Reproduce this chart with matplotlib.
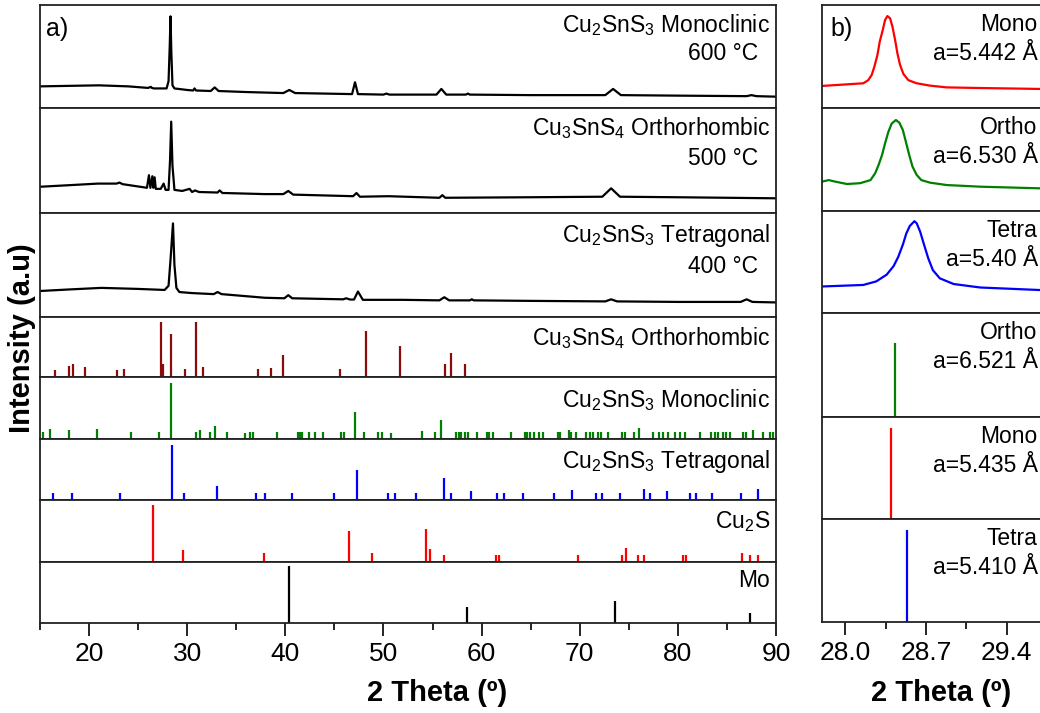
import matplotlib
matplotlib.use("Agg")
import matplotlib.pyplot as plt
from matplotlib.transforms import blended_transform_factory

plt.rcParams["font.family"] = ["Liberation Sans", "DejaVu Sans"]
plt.rcParams["mathtext.fontset"] = "custom"
plt.rcParams["mathtext.rm"] = "Liberation Sans"
plt.rcParams["mathtext.default"] = "regular"

# ---- measured patterns (a) ----
tth_600 = [15.0, 18.0, 21.0, 24.0, 26.0, 26.3, 26.4, 26.6, 27.9, 28.1, 28.22, 28.3, 28.38, 28.5, 28.7,
           30.0, 30.6, 30.75, 30.9, 32.4, 32.8, 33.2, 36.0, 39.8, 40.4, 41.0, 44.0, 46.8, 47.1, 47.4,
           50.0, 50.3, 50.6, 55.4, 55.9, 56.4, 58.4, 58.6, 58.8, 65.0, 72.6, 73.4, 74.2, 80.0, 87.0,
           87.5, 88.0, 90.0]
int_600 = [0.21, 0.215, 0.22, 0.21, 0.195, 0.205, 0.195, 0.19, 0.19, 0.26, 0.6, 0.89, 0.55, 0.22, 0.19,
           0.175, 0.17, 0.19, 0.17, 0.165, 0.2, 0.165, 0.155, 0.145, 0.175, 0.145, 0.14, 0.135, 0.25, 0.135,
           0.13, 0.14, 0.13, 0.13, 0.185, 0.13, 0.13, 0.14, 0.13, 0.125, 0.125, 0.185, 0.125, 0.12, 0.115,
           0.125, 0.115, 0.11]

tth_500 = [15.0, 18.0, 20.9, 22.8, 23.1, 23.4, 25.9, 26.1, 26.25, 26.45, 26.55, 26.68, 26.8, 27.3, 27.6,
           27.8, 28.1, 28.25, 28.37, 28.5, 28.7, 29.5, 30.24, 30.5, 30.8, 31.2, 33.1, 33.3, 33.6, 33.9,
           37.9, 39.8, 40.3, 40.8, 46.9, 47.25, 47.6, 50.5, 55.7, 56.0, 56.3, 65.0, 72.3, 73.2, 74.1,
           80.0, 90.0]
int_500 = [0.25, 0.265, 0.28, 0.28, 0.29, 0.275, 0.24, 0.36, 0.24, 0.35, 0.24, 0.34, 0.23, 0.23, 0.28,
           0.22, 0.22, 0.5, 0.87, 0.45, 0.22, 0.21, 0.23, 0.2, 0.215, 0.2, 0.195, 0.215, 0.19, 0.19,
           0.18, 0.18, 0.21, 0.175, 0.16, 0.19, 0.155, 0.16, 0.145, 0.17, 0.145, 0.15, 0.155, 0.235, 0.155,
           0.15, 0.14]

tth_400 = [15.0, 18.0, 21.25, 25.0, 27.7, 28.1, 28.3, 28.55, 28.7, 28.9, 29.2, 30.5, 32.7, 33.1, 33.5,
           37.9, 39.9, 40.3, 40.7, 45.9, 46.2, 46.6, 47.0, 47.4, 47.9, 52.0, 55.7, 56.2, 56.7, 58.8,
           59.0, 59.2, 65.0, 72.6, 73.2, 73.8, 80.0, 86.4, 87.0, 87.6, 90.0]
int_400 = [0.25, 0.265, 0.28, 0.27, 0.26, 0.3, 0.55, 0.9, 0.5, 0.28, 0.24, 0.23, 0.22, 0.24, 0.22,
           0.185, 0.18, 0.21, 0.18, 0.17, 0.18, 0.168, 0.168, 0.245, 0.165, 0.165, 0.16, 0.19, 0.16, 0.16,
           0.17, 0.16, 0.155, 0.15, 0.17, 0.15, 0.145, 0.145, 0.17, 0.145, 0.14]

# ---- reference sticks (a) ----
ortho_pos = [16.53, 17.95, 18.36, 19.55, 22.84, 23.55, 27.29, 27.52, 28.34, 29.77, 30.85, 31.56,
             37.2, 38.56, 39.75, 45.55, 48.23, 51.73, 56.24, 56.85, 58.28]
ortho_int = [0.12, 0.18, 0.21, 0.17, 0.12, 0.14, 0.92, 0.22, 0.72, 0.14, 0.92, 0.16,
             0.14, 0.15, 0.36, 0.14, 0.76, 0.51, 0.22, 0.40, 0.22]

mono_pos = [15.27, 15.98, 17.95, 20.8, 24.27, 27.08, 28.34, 30.92, 31.29, 32.35, 32.79, 34.08, 35.88,
            36.45, 36.72, 39.2, 41.31, 41.48, 41.65, 42.43, 43.04, 43.85, 45.72, 45.96, 47.11, 48.06,
            49.45, 49.83, 50.81, 53.93, 55.22, 55.9, 57.36, 57.67, 57.94, 58.28, 58.65, 59.53, 60.55,
            60.72, 61.16, 63.03, 64.39, 64.62, 64.9, 65.3, 65.85, 66.26, 67.78, 68.0, 68.87, 69.14,
            69.65, 70.67, 71.0, 71.35, 71.86, 72.17, 72.88, 74.35, 74.58, 75.5, 76.05, 77.46, 78.07,
            78.48, 78.99, 79.67, 80.18, 80.7, 82.28, 83.4, 83.74, 84.08, 84.59, 84.87, 85.28, 86.64,
            86.9, 87.64, 88.66, 89.34, 89.74]
mono_int = [0.11, 0.16, 0.14, 0.16, 0.12, 0.11, 0.9, 0.12, 0.14, 0.11, 0.21, 0.11, 0.1,
            0.11, 0.12, 0.12, 0.11, 0.11, 0.12, 0.12, 0.11, 0.12, 0.11, 0.12, 0.43, 0.12,
            0.11, 0.11, 0.1, 0.13, 0.11, 0.3, 0.11, 0.11, 0.11, 0.12, 0.11, 0.12, 0.11,
            0.11, 0.11, 0.11, 0.11, 0.11, 0.11, 0.11, 0.11, 0.11, 0.11, 0.11, 0.14, 0.11,
            0.11, 0.11, 0.11, 0.11, 0.11, 0.11, 0.11, 0.11, 0.11, 0.11, 0.17, 0.11, 0.11,
            0.11, 0.11, 0.11, 0.11, 0.11, 0.11, 0.11, 0.11, 0.11, 0.11, 0.11, 0.11, 0.11,
            0.11, 0.14, 0.11, 0.11, 0.11]

tetra_pos = [16.32, 18.26, 23.18, 28.44, 29.66, 32.99, 37.0, 37.95, 40.73, 44.97, 47.35, 50.44, 51.15,
             53.36, 56.17, 56.85, 58.96, 61.57, 62.25, 64.22, 67.34, 69.24, 71.69, 72.3, 74.06,
             76.51, 77.12, 78.88, 81.19, 81.8, 83.5, 86.45, 88.15]
tetra_int = [0.12, 0.12, 0.12, 0.9, 0.12, 0.23, 0.12, 0.12, 0.12, 0.12, 0.5, 0.12, 0.12,
             0.12, 0.36, 0.12, 0.14, 0.12, 0.12, 0.12, 0.12, 0.17, 0.12, 0.12, 0.12,
             0.18, 0.12, 0.14, 0.12, 0.12, 0.12, 0.12, 0.18]

cu2s_pos = [26.54, 29.56, 37.81, 46.53, 48.88, 54.38, 54.78, 56.14, 61.44, 61.77, 69.85, 74.3, 74.74,
            75.93, 76.51, 80.51, 80.85, 86.53, 87.3, 88.15]
cu2s_int = [0.92, 0.2, 0.14, 0.5, 0.15, 0.53, 0.21, 0.12, 0.12, 0.12, 0.12, 0.12, 0.23,
            0.12, 0.12, 0.12, 0.12, 0.14, 0.12, 0.12]

mo_pos = [40.39, 58.52, 73.55, 87.37]
mo_int = [0.93, 0.26, 0.36, 0.17]

# ---- zoom on main peak (b) ----
tth_b_mono = [27.8, 28.158, 28.2, 28.23, 28.253, 28.28, 28.3, 28.326, 28.346, 28.366, 28.39, 28.41,
              28.433, 28.453, 28.476, 28.505, 28.548, 28.62, 28.736, 28.88, 29.17, 29.69]
int_b_mono = [0.214, 0.24, 0.27, 0.32, 0.40, 0.515, 0.645, 0.757, 0.854, 0.893, 0.87, 0.79,
              0.66, 0.53, 0.417, 0.33, 0.27, 0.24, 0.217, 0.2, 0.194, 0.185]
tth_b_ortho = [27.8, 27.858, 27.915, 28.016, 28.13, 28.22, 28.26, 28.29, 28.32, 28.346, 28.375, 28.404,
               28.44, 28.47, 28.5, 28.526, 28.555, 28.584, 28.62, 28.66, 28.736, 28.88, 29.17, 29.69]
int_b_ortho = [0.285, 0.30, 0.285, 0.262, 0.27, 0.30, 0.366, 0.447, 0.544, 0.657, 0.77, 0.85,
               0.883, 0.857, 0.786, 0.673, 0.544, 0.43, 0.35, 0.30, 0.275, 0.252, 0.236, 0.22]
tth_b_tetra = [27.8, 28.158, 28.27, 28.36, 28.42, 28.46, 28.5, 28.53, 28.56, 28.6, 28.62, 28.65,
               28.68, 28.72, 28.76, 28.82, 28.94, 29.17, 29.69]
int_b_tetra = [0.26, 0.275, 0.31, 0.376, 0.46, 0.55, 0.67, 0.78, 0.853, 0.9, 0.879, 0.797,
               0.683, 0.536, 0.42, 0.34, 0.284, 0.25, 0.225]

ref_b_pos = [28.43, 28.40, 28.54]
ref_b_int = [0.71, 0.89, 0.89]

W, H = 1040, 713
fig = plt.figure(figsize=(W / 100, H / 100), dpi=100)

TXT = 16.5
LBL = 21
TICK = 19


def add_ax(x0, x1, y0, y1):
    ax = fig.add_axes([x0 / W, 1 - y1 / H, (x1 - x0) / W, (y1 - y0) / H])
    for s in ax.spines.values():
        s.set_linewidth(1.3)
        s.set_color("#222222")
    ax.set_ylim(0, 1)
    ax.set_yticks([])
    ax.tick_params(axis="x", which="both", bottom=False, labelbottom=False)
    return ax


def put(ax, text, x_px, base_px, row_top):
    # right-aligned label, x in figure pixels, baseline in pixels from the top
    tr = blended_transform_factory(fig.transFigure, ax.transAxes)
    ax_h = ax.get_position().height * H
    ax.text(x_px / W, 1 - (base_px - row_top) / ax_h, text, transform=tr,
            ha="right", va="baseline", fontsize=TXT)


# ---- panel a ----
xa0, xa1 = 40, 776
rows_a = [5, 108, 213, 317, 377, 439, 500, 562, 623]
axes_a = [add_ax(xa0, xa1, rows_a[i], rows_a[i + 1]) for i in range(8)]
for ax in axes_a:
    ax.set_xlim(15, 90)

axes_a[0].plot(tth_600, int_600, color="black", lw=1.6)
axes_a[1].plot(tth_500, int_500, color="black", lw=1.6)
axes_a[2].plot(tth_400, int_400, color="black", lw=1.6)
axes_a[3].vlines(ortho_pos, 0, ortho_int, color="#8b0a0a", lw=1.6)
axes_a[4].vlines(mono_pos, 0, mono_int, color="#008000", lw=1.6)
axes_a[5].vlines(tetra_pos, 0, tetra_int, color="#0000ff", lw=1.6)
axes_a[6].vlines(cu2s_pos, 0, cu2s_int, color="#ff0000", lw=1.6)
axes_a[7].vlines(mo_pos, 0, mo_int, color="black", lw=1.6)

put(axes_a[0], r"Cu$_2$SnS$_3$ Monoclinic", 770, 32, rows_a[0])
put(axes_a[0], "600 °C", 758, 60, rows_a[0])
put(axes_a[1], r"Cu$_3$SnS$_4$ Orthorhombic", 770, 135, rows_a[1])
put(axes_a[1], "500 °C", 758, 165, rows_a[1])
put(axes_a[2], r"Cu$_2$SnS$_3$ Tetragonal", 770, 242, rows_a[2])
put(axes_a[2], "400 °C", 758, 273, rows_a[2])
put(axes_a[3], r"Cu$_3$SnS$_4$ Orthorhombic", 770, 345, rows_a[3])
put(axes_a[4], r"Cu$_2$SnS$_3$ Monoclinic", 770, 407, rows_a[4])
put(axes_a[5], r"Cu$_2$SnS$_3$ Tetragonal", 770, 468, rows_a[5])
put(axes_a[6], r"Cu$_2$S", 770, 528, rows_a[6])
put(axes_a[7], "Mo", 770, 587, rows_a[7])

axes_a[0].text(46 / W, 1 - 36 / H, "a)", transform=fig.transFigure, fontsize=18)

bot = axes_a[7]
bot.set_xticks([20, 30, 40, 50, 60, 70, 80, 90])
bot.set_xticks([15, 25, 35, 45, 55, 65, 75, 85], minor=True)
bot.tick_params(axis="x", which="both", bottom=True, labelbottom=True, direction="out",
                width=1.2, labelsize=TICK, pad=5)
bot.tick_params(axis="x", which="major", length=9)
bot.tick_params(axis="x", which="minor", length=5)

# ---- panel b ----
xb0, xb1 = 822, 1053
rows_b = [5, 108, 211, 313, 417, 519, 622]
axes_b = [add_ax(xb0, xb1, rows_b[i], rows_b[i + 1]) for i in range(6)]
for ax in axes_b:
    ax.set_xlim(27.8, 29.8)

axes_b[0].plot(tth_b_mono, int_b_mono, color="#ff0000", lw=1.6)
axes_b[1].plot(tth_b_ortho, int_b_ortho, color="#008000", lw=1.6)
axes_b[2].plot(tth_b_tetra, int_b_tetra, color="#0000ff", lw=1.6)
axes_b[3].vlines(ref_b_pos[0], 0, ref_b_int[0], color="#008000", lw=1.6)
axes_b[4].vlines(ref_b_pos[1], 0, ref_b_int[1], color="#ff0000", lw=1.6)
axes_b[5].vlines(ref_b_pos[2], 0, ref_b_int[2], color="#0000ff", lw=1.6)

labels_b = [("Mono", "a=5.442 Å"), ("Ortho", "a=6.530 Å"), ("Tetra", "a=5.40 Å"),
            ("Ortho", "a=6.521 Å"), ("Mono", "a=5.435 Å"), ("Tetra", "a=5.410 Å")]
for i, (l1, l2) in enumerate(labels_b):
    put(axes_b[i], l1, 1037, rows_b[i] + 26, rows_b[i])
    put(axes_b[i], l2, 1038, rows_b[i] + 55, rows_b[i])

axes_b[0].text(830 / W, 1 - 36 / H, "b)", transform=fig.transFigure, fontsize=18)

botb = axes_b[5]
botb.set_xticks([28.0, 28.7, 29.4])
botb.set_xticks([28.35, 29.05, 29.75], minor=True)
botb.set_xticklabels(["28.0", "28.7", "29.4"])
botb.tick_params(axis="x", which="both", bottom=True, labelbottom=True, direction="out",
                 width=1.2, labelsize=TICK, pad=5)
botb.tick_params(axis="x", which="major", length=9)
botb.tick_params(axis="x", which="minor", length=5)

# ---- axis labels ----
fig.text(437 / W, 1 - 693 / H, "2 Theta (º)", ha="center", va="center",
         fontsize=LBL, fontweight="bold")
fig.text(941 / W, 1 - 693 / H, "2 Theta (º)", ha="center", va="center",
         fontsize=LBL, fontweight="bold")
fig.text(22 / W, 1 - 338 / H, "Intensity (a.u)", ha="center", va="center",
         rotation=90, fontsize=LBL, fontweight="bold")

fig.savefig("out.png", dpi=100, facecolor="white")
